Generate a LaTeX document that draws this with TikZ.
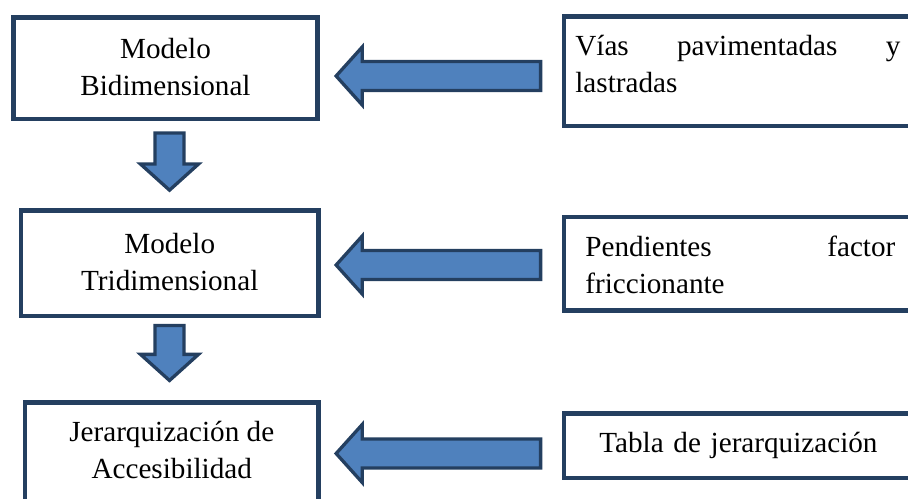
\documentclass[tikz,border=0pt]{standalone}
\usepackage{fontspec}
\setmainfont{Liberation Serif}
\usetikzlibrary{shapes.arrows}
\definecolor{navy}{HTML}{243F60}
\definecolor{arrowblue}{HTML}{4F81BD}

\begin{document}
\begin{tikzpicture}[
  stage/.style={draw=navy, line width=0.094cm, fill=white, inner sep=0pt, align=center, font=\fontsize{16.6}{21}\selectfont},
  source/.style={stage, align=left, text width=7cm, anchor=north west},
  bigarrow/.style={single arrow, draw=navy, fill=arrowblue, line width=0.066cm, inner sep=0.257cm, minimum width=1.1cm, single arrow head extend=0.29cm, single arrow tip angle=96, anchor=tip}
]
  \path[use as bounding box, clip] (0,0) rectangle (18.16,-9.96);

  % left column
  \node[stage, anchor=north, minimum width=6.08cm, text height=1.56cm, text depth=0.47cm] (bidim) at (3.31,-0.30) {Modelo\\Bidimensional};
  \node[stage, anchor=north, minimum width=5.95cm, text height=1.60cm, text depth=0.51cm] (tridim) at (3.395,-4.16) {Modelo\\Tridimensional};
  \node[stage, anchor=north, minimum width=5.87cm, text height=1.53cm, text depth=1.06cm] (jerar) at (3.435,-8.00) {Jerarquización de\\Accesibilidad};

  % right column
  \node[source, inner xsep=0.23cm, text height=0.77cm, text depth=1.414cm] (vias) at (11.23,-0.29) {\makebox[6.5cm]{Vías\hfill pavimentadas\hfill y}\\lastradas};
  \node[source, inner xsep=0.43cm, text height=0.79cm, text depth=1.08cm] (pend) at (11.23,-4.29) {\makebox[6.2cm]{Pendientes\hfill factor}\\friccionante};
  \node[source, inner xsep=0.71cm, text height=0.78cm, text depth=0.51cm] (tabla) at (11.23,-8.22) {Tabla de jerarquización};

  % block arrows, placed by their tips
  \node[bigarrow, shape border rotate=180, minimum height=4.09cm] (in1) at (6.678,-1.52) {};
  \node[bigarrow, shape border rotate=180, minimum height=4.09cm] (in2) at (6.678,-5.30) {};
  \node[bigarrow, shape border rotate=180, minimum height=4.09cm] (in3) at (6.678,-9.07) {};
  \node[bigarrow, shape border rotate=270, minimum height=1.142cm] (down1) at (3.39,-3.848) {};
  \node[bigarrow, shape border rotate=270, minimum height=1.10cm] (down2) at (3.39,-7.654) {};
\end{tikzpicture}
\end{document}
